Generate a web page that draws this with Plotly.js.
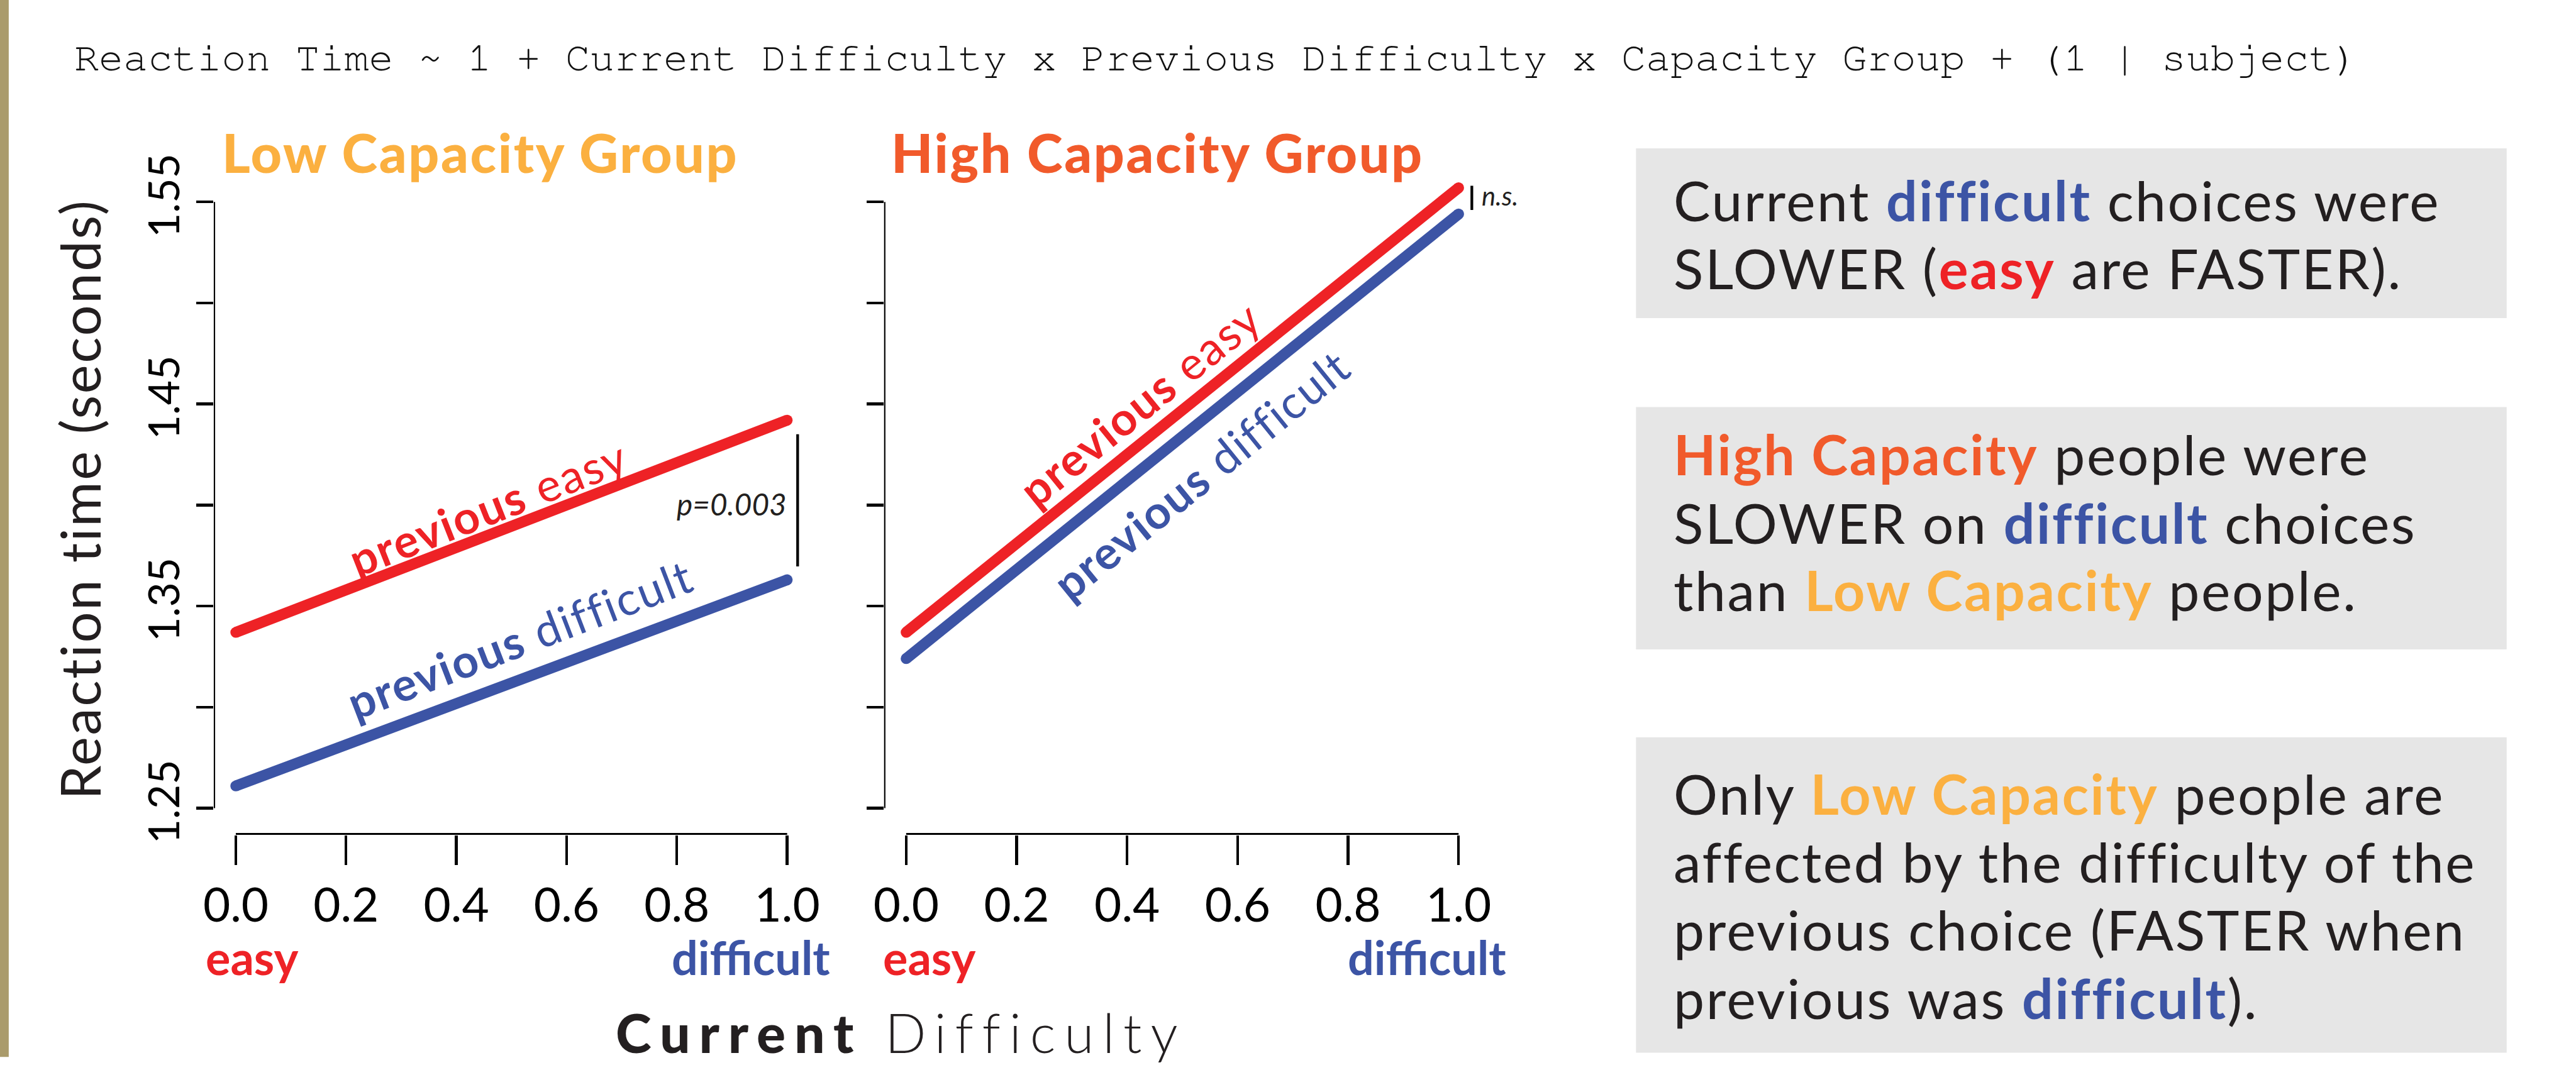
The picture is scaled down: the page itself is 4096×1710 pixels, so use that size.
<!DOCTYPE html>
<html><head><meta charset="utf-8">
<script src="https://cdn.plot.ly/plotly-3.0.1.min.js"></script>
<style>html,body{margin:0;padding:0;background:#fff;overflow:hidden}#chart{width:4096px;height:1710px}</style>
</head><body><div id="chart"></div>
<script>
// ---------------- data ----------------
const currentDifficulty = [0, 1];
const lowPrevEasy       = [1.337, 1.442];
const lowPrevDifficult  = [1.261, 1.363];
const highPrevEasy      = [1.337, 1.557];
const highPrevDifficult = [1.324, 1.544];
const xTickVals = [0, 0.2, 0.4, 0.6, 0.8, 1.0];
const xTickText = ['0.0', '0.2', '0.4', '0.6', '0.8', '1.0'];
const yTickVals = [1.25, 1.30, 1.35, 1.40, 1.45, 1.50, 1.55];
const yTickText = ['1.25', '', '1.35', '', '1.45', '', '1.55'];
const panelTitles = ['Low Capacity Group', 'High Capacity Group'];
const lineLabels = ['previous', 'easy', 'difficult'];
const formula = 'Reaction Time ~ 1 + Current Difficulty x Previous Difficulty x Capacity Group + (1 | subject)';
const pValues = ['p=0.003', 'n.s.'];

// ---------------- geometry (reference pixels) ----------------
const W = 4719, H = 1970, S = 4096 / 4719;
const px = v => v / W, py = v => 1 - v / H;
const RED = '#EE2226', BLUE = '#3C54A5', ORANGE = '#F15A2B', GOLD = '#FBB040',
      INK = '#231F20', BOXC = '#E6E6E6', STRIP = '#AA9B6B';
const F = 'Lato, sans-serif';
const ls = (t, v) => '<span style="letter-spacing:' + (v * S).toFixed(2) + 'px">' + t + '</span>';

const yTopPx = 370, yBotPx = 1481;            // pixel of 1.55 and 1.25
const perUnit = (yBotPx - yTopPx) / 0.30;
const yAt = p => 1.55 - (p - yTopPx) / perUnit;
const yLo = yAt(1530), yHi = yAt(321);
const xPad = 0.04;
function xDomain(x0, x1) { const u = x1 - x0; return [px(x0 - xPad * u), px(x1 + xPad * u)]; }
const yDomain = [py(1530), py(321)];

const lineW = 20 * S;
function lineTrace(y, color, xa, ya) {
  return { x: currentDifficulty, y: y, xaxis: xa, yaxis: ya, mode: 'lines+markers',
    line: { color: color, width: lineW }, marker: { color: color, size: lineW },
    hoverinfo: 'skip', showlegend: false, cliponaxis: false };
}
const data = [
  lineTrace(lowPrevEasy, RED, 'x', 'y'),
  lineTrace(lowPrevDifficult, BLUE, 'x', 'y'),
  lineTrace(highPrevEasy, RED, 'x2', 'y2'),
  lineTrace(highPrevDifficult, BLUE, 'x2', 'y2')
];

function xAxis(dom, anchor) {
  return { domain: dom, anchor: anchor, range: [-xPad, 1 + xPad], tickvals: xTickVals, ticktext: xTickText,
    ticks: 'outside', ticklen: 54 * S, tickwidth: 5 * S, tickcolor: '#000', showline: false, showgrid: false,
    zeroline: false, tickfont: { family: F, size: 86 * S, color: '#000' }, fixedrange: true };
}
function yAxis(anchor, labels) {
  return { domain: yDomain, anchor: anchor, range: [yLo, yHi], tickvals: yTickVals, ticktext: yTickText,
    ticks: 'outside', ticklen: 31 * S, tickwidth: 5 * S, tickcolor: '#000', showline: false, showgrid: false,
    zeroline: false, tickangle: -90, showticklabels: labels,
    tickfont: { family: F, size: 78 * S, color: '#000' }, fixedrange: true };
}

const shapes = [
  { type: 'rect', xref: 'paper', yref: 'paper', x0: 0, x1: px(16), y0: py(1937), y1: 1, fillcolor: STRIP, line: { width: 0 }, layer: 'below' },
  { type: 'rect', xref: 'paper', yref: 'paper', x0: px(2997), x1: px(4592), y0: py(583), y1: py(272), fillcolor: BOXC, line: { width: 0 }, layer: 'below' },
  { type: 'rect', xref: 'paper', yref: 'paper', x0: px(2997), x1: px(4592), y0: py(1190), y1: py(746), fillcolor: BOXC, line: { width: 0 }, layer: 'below' },
  { type: 'rect', xref: 'paper', yref: 'paper', x0: px(2997), x1: px(4592), y0: py(1929), y1: py(1351), fillcolor: BOXC, line: { width: 0 }, layer: 'below' }
];
[['x', 'y'], ['x2', 'y2']].forEach(([xa, ya]) => {
  shapes.push({ type: 'line', xref: xa, yref: ya, x0: -xPad, x1: -xPad, y0: 1.25, y1: 1.55, line: { color: '#000', width: 5 * S } });
  shapes.push({ type: 'line', xref: xa, yref: ya, x0: 0, x1: 1, y0: yLo, y1: yLo, line: { color: '#000', width: 7 * S } });
});
shapes.push({ type: 'line', xref: 'x', yref: 'y', x0: 1.019, x1: 1.019, y0: 1.3696, y1: 1.435, line: { color: '#000', width: 5 * S } });
shapes.push({ type: 'line', xref: 'x2', yref: 'y2', x0: 1.024, x1: 1.024, y0: 1.546, y1: 1.558, line: { color: '#000', width: 5 * S } });

const annotations = [];
function ann(text, x, y, o) {
  annotations.push(Object.assign({ text: text, x: x, y: y, xref: 'paper', yref: 'paper', showarrow: false,
    xanchor: 'center', yanchor: 'middle', borderpad: 0 }, o));
}
const K = 0.387; // baseline -> middle offset (em) for Lato
function annB(text, xpx, basePx, size, o) {
  ann(text, px(xpx), py(basePx - K * size), Object.assign({ font: { family: F, size: size * S, color: INK } }, o));
}
// formula
ann(formula, px(135), py(127 - 0.265 * 75), { xanchor: 'left',
  font: { family: '"Nimbus Mono PS", "Nimbus Mono L", FreeMono, "Liberation Mono", monospace', size: 75 * S, color: '#111' } });
// panel titles
const heavy = t => '<span style="font-weight:900">' + t + '</span>';
annB(ls(heavy(panelTitles[0]), 3), 880, 316, 99, { font: { family: F, size: 99 * S, color: GOLD } });
annB(ls(heavy(panelTitles[1]), 3), 2121, 316, 99, { font: { family: F, size: 99 * S, color: ORANGE } });
// y title
ann(ls('Reaction time (seconds)', 3), px(145), py(915), { textangle: -90, font: { family: F, size: 100 * S, color: INK } });
// x title
annB(ls('<span style="font-weight:900">Current</span> <span style="font-weight:300">Difficulty</span>', 16), 1650, 1929, 99, {});
// easy / difficult under axes
annB('<b>easy</b>', 376, 1787, 85, { xanchor: 'left', font: { family: F, size: 85 * S, color: RED } });
annB('<b>difficult</b>', 1522, 1787, 85, { xanchor: 'right', font: { family: F, size: 85 * S, color: BLUE } });
annB('<b>easy</b>', 1616, 1787, 85, { xanchor: 'left', font: { family: F, size: 85 * S, color: RED } });
annB('<b>difficult</b>', 2760, 1787, 85, { xanchor: 'right', font: { family: F, size: 85 * S, color: BLUE } });
// line labels
function lineLab(second, color, xa, ya, x, y, ang) {
  annotations.push({ text: ls('<b>' + lineLabels[0] + '</b> ' + second, 2.5), x: x, y: y, xref: xa, yref: ya, showarrow: false,
    textangle: ang, xanchor: 'center', yanchor: 'middle', font: { family: F, size: 84 * S, color: color } });
}
lineLab(lineLabels[1], RED, 'x', 'y', 0.458, 1.3988, -21.5);
lineLab(lineLabels[2], BLUE, 'x', 'y', 0.515, 1.334, -21);
lineLab(lineLabels[1], RED, 'x2', 'y2', 0.423, 1.4506, -39);
lineLab(lineLabels[2], BLUE, 'x2', 'y2', 0.534, 1.4155, -39);
// p-values
annB('<i>' + pValues[0] + '</i>', 1443, 945, 55, { xanchor: 'right' });
annB('<i>' + pValues[1] + '</i>', 2713, 377, 48, { xanchor: 'left' });
// text boxes
const bs = 101;
const cB = t => '<span style="color:' + BLUE + '"><b>' + t + '</b></span>';
const cR = t => '<span style="color:' + RED + '"><b>' + t + '</b></span>';
const cO = t => '<span style="color:' + ORANGE + '"><b>' + t + '</b></span>';
const cG = t => '<span style="color:' + GOLD + '"><b>' + t + '</b></span>';
const boxLines = [
  ['Current ' + cB('difficult') + ' choices were', 405],
  ['SLOWER (' + cR('easy') + ' are FASTER).', 530],
  [cO('High Capacity') + ' people were', 871],
  ['SLOWER on ' + cB('difficult') + ' choices', 996],
  ['than ' + cG('Low Capacity') + ' people.', 1120],
  ['Only ' + cG('Low Capacity') + ' people are', 1493],
  ['affected by the difficulty of the', 1617],
  ['previous choice (FASTER when', 1742],
  ['previous was ' + cB('difficult') + ').', 1867]
];
boxLines.forEach(([t, b]) => annB(ls(t, 3.0), 3065, b, bs, { xanchor: 'left' }));

const layout = {
  width: 4096, height: 1710, margin: { l: 0, r: 0, t: 0, b: 0 }, paper_bgcolor: '#fff', plot_bgcolor: 'rgba(0,0,0,0)',
  showlegend: false, hovermode: false,
  xaxis: xAxis(xDomain(432, 1442), 'y'),
  yaxis: yAxis('x', true),
  xaxis2: xAxis(xDomain(1660, 2672), 'y2'),
  yaxis2: yAxis('x2', false),
  shapes: shapes, annotations: annotations
};
Plotly.newPlot('chart', data, layout, { staticPlot: true, displayModeBar: false });
</script></body></html>
